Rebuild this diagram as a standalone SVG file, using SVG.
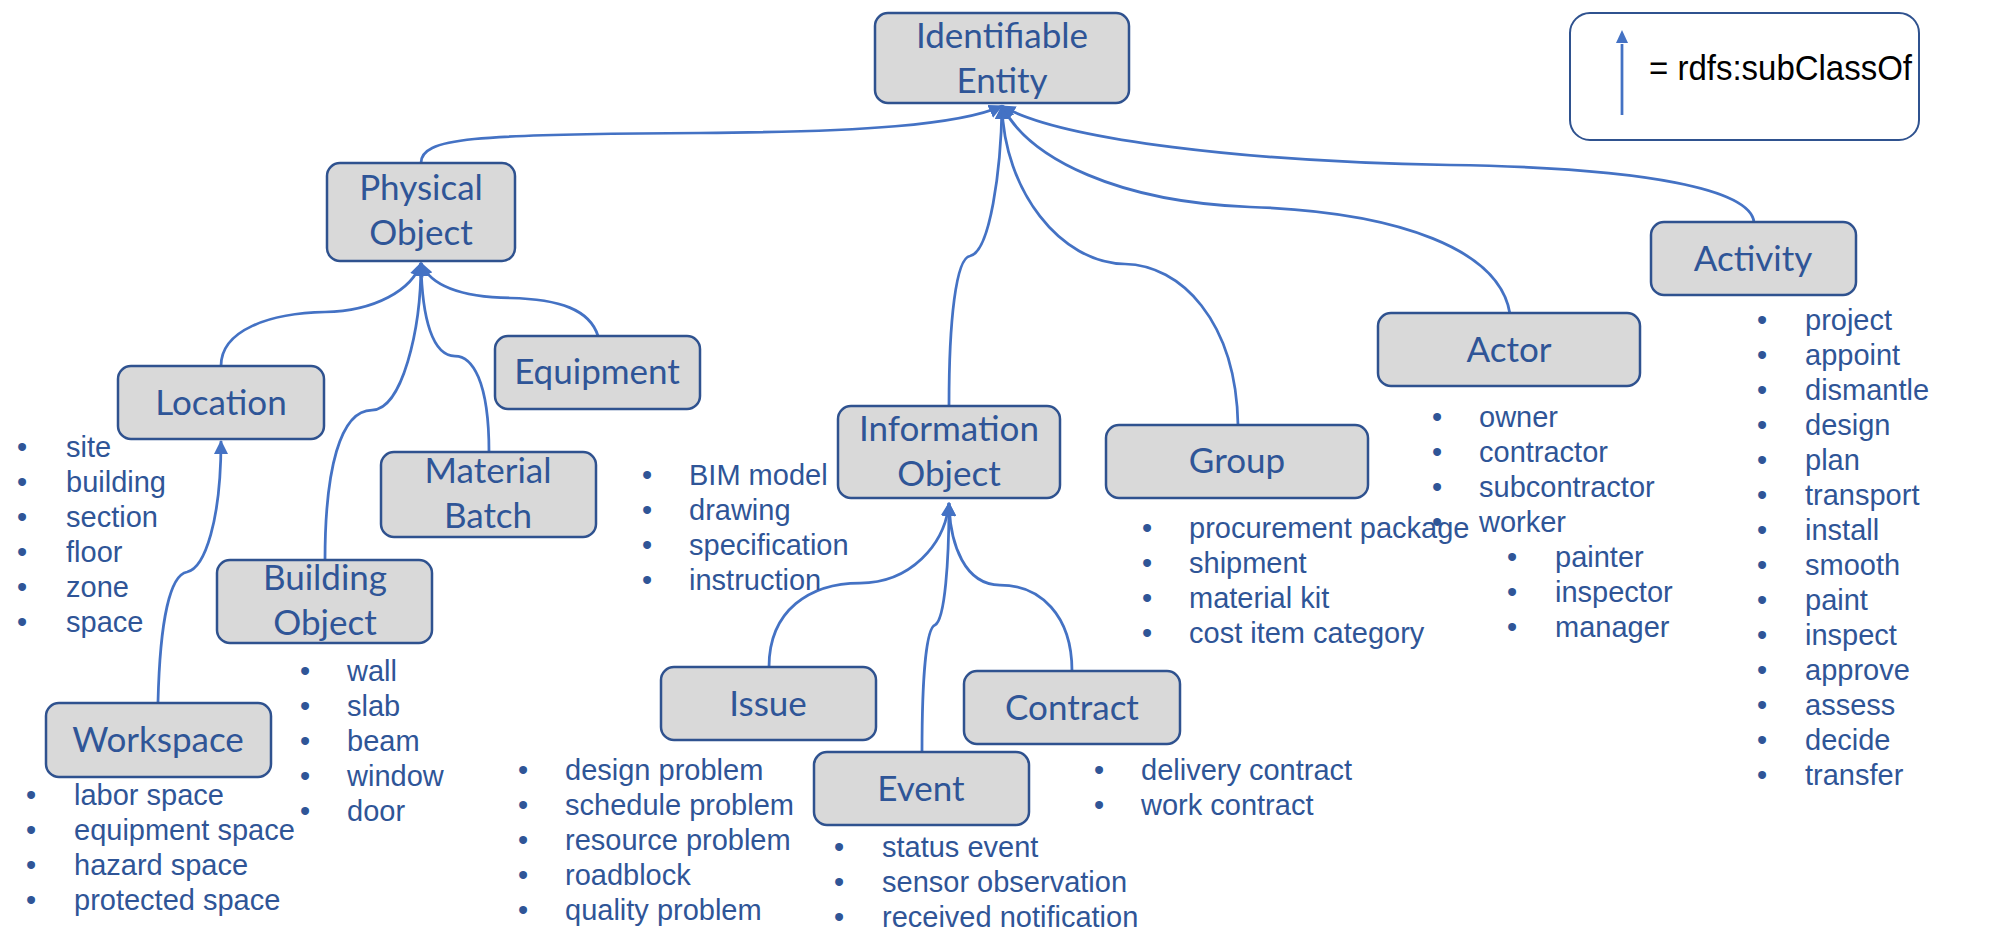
<svg xmlns="http://www.w3.org/2000/svg" width="1993" height="952" viewBox="0 0 1993 952">
<style>
.box{fill:#D9D9D9;stroke:#2F528F;stroke-width:2.5}
.lbl{font-family:Lato,"Liberation Sans",sans-serif;font-size:35px;fill:#2F5597;text-anchor:middle}
.lst{font-family:"Liberation Sans",Arial,sans-serif;font-size:29px;fill:#2F5597}
.con{fill:none;stroke:#4472C4;stroke-width:2.75;marker-end:url(#ah)}
</style>
<defs>
<marker id="ah" markerUnits="userSpaceOnUse" markerWidth="14" markerHeight="14" viewBox="0 0 14 14" refX="13" refY="7" orient="auto">
<path d="M0,0 L14,7 L0,14 Z" fill="#4472C4"/>
</marker>
</defs>
<rect width="1993" height="952" fill="#FFFFFF"/>

<g id="connectors">
<path class="con" d="M421,163 C421,138 470,134 700,133 C860,132 960,125 1002,106"/>
<path class="con" d="M949,405 C949,320 956,258 970,256 C990,252 1001,170 1002,106"/>
<path class="con" d="M1238,425 C1236,320 1180,265 1125,264 C1060,263 1004,190 1002,106"/>
<path class="con" d="M1510,314 C1500,250 1400,212 1250,207 C1120,202 1030,160 1002,106"/>
<path class="con" d="M1754,222 C1750,190 1650,168 1450,165 C1250,162 1060,140 1002,106"/>
<path class="con" d="M221,366 C221,330 270,313 325,312 C375,311 412,290 421,263"/>
<path class="con" d="M325,560 C325,470 340,410 372,410 C402,410 421,330 421,263"/>
<path class="con" d="M489,452 C489,380 472,356 455,356 C433,356 422,320 421,263"/>
<path class="con" d="M598,336 C590,310 560,299 510,298 C460,297 430,285 421,263"/>
<path class="con" d="M158,702 C160,620 170,575 187,572 C205,568 221,520 221,441"/>
<path class="con" d="M769,667 C769,610 810,583 860,583 C910,583 945,545 949,503"/>
<path class="con" d="M922,752 C922,680 926,628 935,625 C945,620 949,560 949,503"/>
<path class="con" d="M1072,671 C1072,615 1040,585 1000,585 C965,585 950,545 949,503"/>
</g>

<g id="identifiable-entity">
<rect class="box" x="875" y="13" width="254" height="90" rx="13"/>
<text class="lbl" x="1002" y="48">Identifiable</text>
<text class="lbl" x="1002" y="93">Entity</text>
</g>
<g id="physical-object">
<rect class="box" x="327" y="163" width="188" height="98" rx="13"/>
<text class="lbl" x="421" y="200">Physical</text>
<text class="lbl" x="421" y="245">Object</text>
</g>
<g id="location">
<rect class="box" x="118" y="366" width="206" height="73" rx="13"/>
<text class="lbl" x="221" y="415">Location</text>
</g>
<g id="equipment">
<rect class="box" x="495" y="336" width="205" height="73" rx="13"/>
<text class="lbl" x="597" y="384">Equipment</text>
</g>
<g id="material-batch">
<rect class="box" x="381" y="452" width="215" height="85" rx="13"/>
<text class="lbl" x="488" y="483">Material</text>
<text class="lbl" x="488" y="528">Batch</text>
</g>
<g id="building-object">
<rect class="box" x="217" y="560" width="215" height="83" rx="13"/>
<text class="lbl" x="325" y="590">Building</text>
<text class="lbl" x="325" y="635">Object</text>
</g>
<g id="workspace">
<rect class="box" x="46" y="703" width="225" height="74" rx="13"/>
<text class="lbl" x="158" y="752">Workspace</text>
</g>
<g id="information-object">
<rect class="box" x="838" y="406" width="222" height="92" rx="13"/>
<text class="lbl" x="949" y="441">Information</text>
<text class="lbl" x="949" y="486">Object</text>
</g>
<g id="group">
<rect class="box" x="1106" y="425" width="262" height="73" rx="13"/>
<text class="lbl" x="1237" y="473">Group</text>
</g>
<g id="actor">
<rect class="box" x="1378" y="313" width="262" height="73" rx="13"/>
<text class="lbl" x="1509" y="362">Actor</text>
</g>
<g id="activity">
<rect class="box" x="1651" y="222" width="205" height="73" rx="13"/>
<text class="lbl" x="1753" y="271">Activity</text>
</g>
<g id="issue">
<rect class="box" x="661" y="667" width="215" height="73" rx="13"/>
<text class="lbl" x="768" y="716">Issue</text>
</g>
<g id="contract">
<rect class="box" x="964" y="671" width="216" height="73" rx="13"/>
<text class="lbl" x="1072" y="720">Contract</text>
</g>
<g id="event">
<rect class="box" x="814" y="752" width="215" height="73" rx="13"/>
<text class="lbl" x="921" y="801">Event</text>
</g>

<g id="legend">
<rect x="1570" y="13" width="349" height="127" rx="20" fill="#FFFFFF" stroke="#2F528F" stroke-width="2"/>
<path d="M1622,115 L1622,44" fill="none" stroke="#4472C4" stroke-width="2.75"/>
<path d="M1616,43 L1622,30 L1628,43 Z" fill="#4472C4"/>
<text x="1649" y="80" font-family="'Liberation Sans',Arial,sans-serif" font-size="35" fill="#000000" textLength="263" lengthAdjust="spacingAndGlyphs">= rdfs:subClassOf</text>
</g>

<g id="location-list" class="lst">
<text y="457"><tspan x="17">•</tspan><tspan x="66">site</tspan></text>
<text y="492"><tspan x="17">•</tspan><tspan x="66">building</tspan></text>
<text y="527"><tspan x="17">•</tspan><tspan x="66">section</tspan></text>
<text y="562"><tspan x="17">•</tspan><tspan x="66">floor</tspan></text>
<text y="597"><tspan x="17">•</tspan><tspan x="66">zone</tspan></text>
<text y="632"><tspan x="17">•</tspan><tspan x="66">space</tspan></text>
</g>
<g id="building-list" class="lst">
<text y="681"><tspan x="300">•</tspan><tspan x="347">wall</tspan></text>
<text y="716"><tspan x="300">•</tspan><tspan x="347">slab</tspan></text>
<text y="751"><tspan x="300">•</tspan><tspan x="347">beam</tspan></text>
<text y="786"><tspan x="300">•</tspan><tspan x="347">window</tspan></text>
<text y="821"><tspan x="300">•</tspan><tspan x="347">door</tspan></text>
</g>
<g id="workspace-list" class="lst">
<text y="805"><tspan x="26">•</tspan><tspan x="74">labor space</tspan></text>
<text y="840"><tspan x="26">•</tspan><tspan x="74">equipment space</tspan></text>
<text y="875"><tspan x="26">•</tspan><tspan x="74">hazard space</tspan></text>
<text y="910"><tspan x="26">•</tspan><tspan x="74">protected space</tspan></text>
</g>
<g id="information-list" class="lst">
<text y="485"><tspan x="642">•</tspan><tspan x="689">BIM model</tspan></text>
<text y="520"><tspan x="642">•</tspan><tspan x="689">drawing</tspan></text>
<text y="555"><tspan x="642">•</tspan><tspan x="689">specification</tspan></text>
<text y="590"><tspan x="642">•</tspan><tspan x="689">instruction</tspan></text>
</g>
<g id="group-list" class="lst">
<text y="538"><tspan x="1142">•</tspan><tspan x="1189">procurement package</tspan></text>
<text y="573"><tspan x="1142">•</tspan><tspan x="1189">shipment</tspan></text>
<text y="608"><tspan x="1142">•</tspan><tspan x="1189">material kit</tspan></text>
<text y="643"><tspan x="1142">•</tspan><tspan x="1189">cost item category</tspan></text>
</g>
<g id="actor-list" class="lst">
<text y="427"><tspan x="1432">•</tspan><tspan x="1479">owner</tspan></text>
<text y="462"><tspan x="1432">•</tspan><tspan x="1479">contractor</tspan></text>
<text y="497"><tspan x="1432">•</tspan><tspan x="1479">subcontractor</tspan></text>
<text y="532"><tspan x="1432">•</tspan><tspan x="1479">worker</tspan></text>
<text y="567"><tspan x="1507">•</tspan><tspan x="1555">painter</tspan></text>
<text y="602"><tspan x="1507">•</tspan><tspan x="1555">inspector</tspan></text>
<text y="637"><tspan x="1507">•</tspan><tspan x="1555">manager</tspan></text>
</g>
<g id="activity-list" class="lst">
<text y="330"><tspan x="1757">•</tspan><tspan x="1805">project</tspan></text>
<text y="365"><tspan x="1757">•</tspan><tspan x="1805">appoint</tspan></text>
<text y="400"><tspan x="1757">•</tspan><tspan x="1805">dismantle</tspan></text>
<text y="435"><tspan x="1757">•</tspan><tspan x="1805">design</tspan></text>
<text y="470"><tspan x="1757">•</tspan><tspan x="1805">plan</tspan></text>
<text y="505"><tspan x="1757">•</tspan><tspan x="1805">transport</tspan></text>
<text y="540"><tspan x="1757">•</tspan><tspan x="1805">install</tspan></text>
<text y="575"><tspan x="1757">•</tspan><tspan x="1805">smooth</tspan></text>
<text y="610"><tspan x="1757">•</tspan><tspan x="1805">paint</tspan></text>
<text y="645"><tspan x="1757">•</tspan><tspan x="1805">inspect</tspan></text>
<text y="680"><tspan x="1757">•</tspan><tspan x="1805">approve</tspan></text>
<text y="715"><tspan x="1757">•</tspan><tspan x="1805">assess</tspan></text>
<text y="750"><tspan x="1757">•</tspan><tspan x="1805">decide</tspan></text>
<text y="785"><tspan x="1757">•</tspan><tspan x="1805">transfer</tspan></text>
</g>
<g id="issue-list" class="lst">
<text y="780"><tspan x="518">•</tspan><tspan x="565">design problem</tspan></text>
<text y="815"><tspan x="518">•</tspan><tspan x="565">schedule problem</tspan></text>
<text y="850"><tspan x="518">•</tspan><tspan x="565">resource problem</tspan></text>
<text y="885"><tspan x="518">•</tspan><tspan x="565">roadblock</tspan></text>
<text y="920"><tspan x="518">•</tspan><tspan x="565">quality problem</tspan></text>
</g>
<g id="event-list" class="lst">
<text y="857"><tspan x="834">•</tspan><tspan x="882">status event</tspan></text>
<text y="892"><tspan x="834">•</tspan><tspan x="882">sensor observation</tspan></text>
<text y="927"><tspan x="834">•</tspan><tspan x="882">received notification</tspan></text>
</g>
<g id="contract-list" class="lst">
<text y="780"><tspan x="1094">•</tspan><tspan x="1141">delivery contract</tspan></text>
<text y="815"><tspan x="1094">•</tspan><tspan x="1141">work contract</tspan></text>
</g>
</svg>
